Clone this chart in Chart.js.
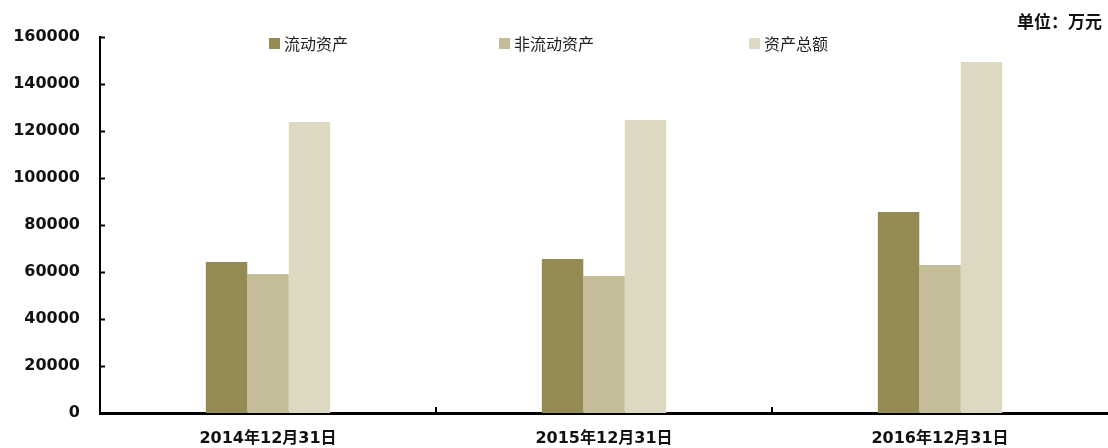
<!DOCTYPE html>
<html>
<head>
<meta charset="utf-8">
<script src="https://cdn.jsdelivr.net/npm/chart.js@4"></script>
<style>
  html, body { margin: 0; padding: 0; background: #fff; }
  #wrap { width: 1108px; height: 448px; }
</style>
</head>
<body>
<div id="wrap"><canvas id="myChart" width="1108" height="448"></canvas></div>
<script>
const categories = ['2014年12月31日', '2015年12月31日', '2016年12月31日'];
const seriesNames = ['流动资产', '非流动资产', '资产总额'];
const currentAssets = [64300, 65500, 85500];
const nonCurrentAssets = [59100, 58300, 63000];
const totalAssets = [123800, 124700, 149400];
const unitLabel = '单位：万元';

const colors = ['#948a54', '#c4bd97', '#ddd9c3'];
const fontFamily = '"DejaVu Sans", "Noto Sans CJK SC", sans-serif';

// legend + unit text drawn on top of the plot, like the original
const overlay = {
  id: 'overlay',
  afterDraw(chart) {
    const ctx = chart.ctx;
    ctx.save();
    ctx.font = '16px "Noto Sans CJK SC", sans-serif';
    ctx.textBaseline = 'middle';
    ctx.fillStyle = '#222';
    const legendX = [269, 499, 749];
    chart.data.datasets.forEach(function(ds, i){
      ctx.fillStyle = ds.backgroundColor;
      ctx.fillRect(legendX[i], 38, 11, 11);
      ctx.fillStyle = '#222';
      ctx.fillText(ds.label, legendX[i] + 15, 44);
    });
    ctx.font = 'bold 17px "Noto Sans CJK SC", sans-serif';
    ctx.textAlign = 'right';
    ctx.fillStyle = '#111';
    ctx.fillText(unitLabel, 1102, 22);

    // small inward ticks
    const y = chart.scales.y, x = chart.scales.x;
    ctx.strokeStyle = '#000';
    ctx.lineWidth = 2;
    y.ticks.forEach(function(t){
      const py = Math.round(y.getPixelForValue(t.value)) + 0.5;
      ctx.beginPath();
      ctx.moveTo(chart.chartArea.left, py);
      ctx.lineTo(chart.chartArea.left + 5, py);
      ctx.stroke();
    });
    for (let i = 0; i < categories.length - 1; i++) {
      const px = Math.round((x.getPixelForTick(i) + x.getPixelForTick(i + 1)) / 2);
      ctx.beginPath();
      ctx.moveTo(px, chart.chartArea.bottom);
      ctx.lineTo(px, chart.chartArea.bottom - 6);
      ctx.stroke();
    }
    ctx.restore();
  }
};

const data = {
  labels: categories,
  datasets: [
    { label: seriesNames[0], data: currentAssets, backgroundColor: colors[0] },
    { label: seriesNames[1], data: nonCurrentAssets, backgroundColor: colors[1] },
    { label: seriesNames[2], data: totalAssets, backgroundColor: colors[2] }
  ]
};

const config = {
  type: 'bar',
  data: data,
  plugins: [overlay],
  options: {
    responsive: false,
    animation: false,
    layout: { padding: { top: 37, left: 13, right: 0, bottom: 0 } },
    datasets: { bar: { barPercentage: 1.0, categoryPercentage: 0.37 } },
    plugins: {
      legend: { display: false },
      tooltip: { enabled: false }
    },
    scales: {
      x: {
        afterFit: function(scale){ scale.height = 35; },
        grid: { display: false, drawTicks: false },
        border: { display: true, color: '#000', width: 3 },
        ticks: { color: '#111', padding: 16, font: { family: fontFamily, size: 16, weight: 'bold' } }
      },
      y: {
        min: 0,
        max: 160000,
        afterFit: function(scale){ scale.width = 87; },
        grid: { display: false, drawTicks: false },
        border: { display: true, color: '#000', width: 2 },
        ticks: {
          stepSize: 20000, color: '#111', padding: 20,
          font: { family: fontFamily, size: 16, weight: 'bold' },
          callback: function(v){ return String(v); }
        }
      }
    }
  }
};

const ctx = document.getElementById('myChart').getContext('2d');
const myChart = new Chart(ctx, config);
</script>
</body>
</html>
